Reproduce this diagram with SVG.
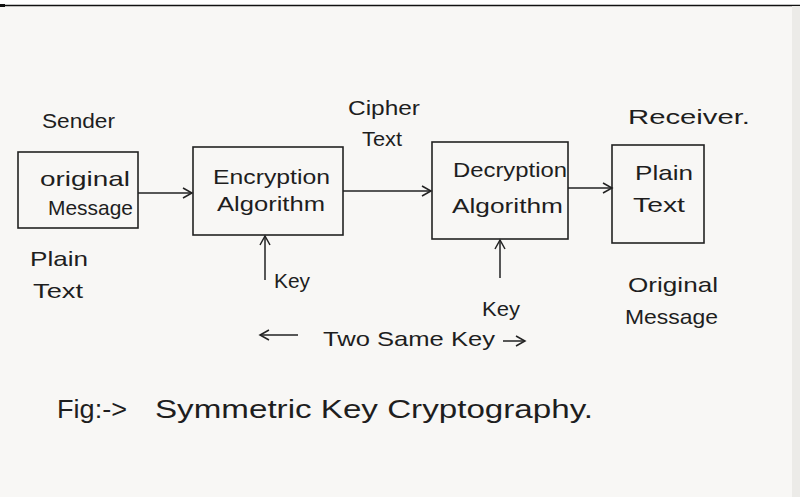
<svg xmlns="http://www.w3.org/2000/svg" width="800" height="497" viewBox="0 0 800 497">
<style>
.box{fill:none;stroke:#222;stroke-width:1.6}
.ln{fill:none;stroke:#222;stroke-width:1.5}
.t{font-family:"Liberation Sans",Arial,sans-serif;font-size:21px;fill:#1e1e1e}
.cap{font-size:25px}
</style>
<defs>
<marker id="ah" markerWidth="12" markerHeight="12" refX="10" refY="6" orient="auto" markerUnits="userSpaceOnUse">
<path d="M1,1 L10,6 L1,11" fill="none" stroke="#222" stroke-width="1.5"/>
</marker>
</defs>
<rect x="0" y="0" width="800" height="497" fill="#f8f7f5"/>
<rect x="0" y="0" width="800" height="5" fill="#ffffff"/>
<line x1="0" y1="5.5" x2="800" y2="5.5" stroke="#111" stroke-width="1.5"/>
<rect x="0" y="4" width="5" height="3" fill="#111"/>
<rect x="792" y="6" width="8" height="491" fill="#ecebe8"/>

<g id="sender-label"><text class="t" x="42" y="128" textLength="73" lengthAdjust="spacingAndGlyphs">Sender</text></g>
<g id="original-message">
<rect class="box" x="18" y="152" width="120" height="76"/>
<text class="t" x="40" y="186" textLength="90" lengthAdjust="spacingAndGlyphs">original</text>
<text class="t" x="48" y="215" textLength="85" lengthAdjust="spacingAndGlyphs">Message</text>
</g>
<g id="plain-text-label"><text class="t" x="30" y="266" textLength="58" lengthAdjust="spacingAndGlyphs">Plain</text><text class="t" x="33" y="298" textLength="50" lengthAdjust="spacingAndGlyphs">Text</text></g>

<g id="encryption">
<rect class="box" x="193" y="147" width="150" height="88"/>
<text class="t" x="213" y="184" textLength="117" lengthAdjust="spacingAndGlyphs">Encryption</text>
<text class="t" x="217" y="211" textLength="108" lengthAdjust="spacingAndGlyphs">Algorithm</text>
</g>
<g id="cipher-label"><text class="t" x="348" y="115" textLength="72" lengthAdjust="spacingAndGlyphs">Cipher</text><text class="t" x="362" y="146" textLength="40" lengthAdjust="spacingAndGlyphs">Text</text></g>

<g id="decryption">
<rect class="box" x="432" y="142" width="136" height="97"/>
<text class="t" x="453" y="177" textLength="114" lengthAdjust="spacingAndGlyphs">Decryption</text>
<text class="t" x="452" y="213" textLength="111" lengthAdjust="spacingAndGlyphs">Algorithm</text>
</g>

<g id="plain-text">
<rect class="box" x="612" y="145" width="92" height="98"/>
<text class="t" x="635" y="180" textLength="58" lengthAdjust="spacingAndGlyphs">Plain</text>
<text class="t" x="633" y="212" textLength="52" lengthAdjust="spacingAndGlyphs">Text</text>
</g>
<g id="receiver-label"><text class="t" x="628" y="124" textLength="122" lengthAdjust="spacingAndGlyphs">Receiver.</text></g>
<g id="original-message-label"><text class="t" x="628" y="292" textLength="90" lengthAdjust="spacingAndGlyphs">Original</text><text class="t" x="625" y="324" textLength="93" lengthAdjust="spacingAndGlyphs">Message</text></g>

<g id="key1-label"><text class="t" x="274" y="288" textLength="36" lengthAdjust="spacingAndGlyphs">Key</text></g>
<g id="key2-label"><text class="t" x="482" y="316" textLength="38" lengthAdjust="spacingAndGlyphs">Key</text></g>
<g id="two-same-key"><text class="t" x="323" y="346" textLength="172" lengthAdjust="spacingAndGlyphs">Two Same Key</text></g>

<g id="connectors">
<line class="ln" x1="138" y1="193" x2="192" y2="193" marker-end="url(#ah)"/>
<line class="ln" x1="343" y1="191" x2="431" y2="191" marker-end="url(#ah)"/>
<line class="ln" x1="568" y1="188" x2="612" y2="188" marker-end="url(#ah)"/>
<line class="ln" x1="265" y1="280" x2="265" y2="236" marker-end="url(#ah)"/>
<line class="ln" x1="500" y1="278" x2="500" y2="240" marker-end="url(#ah)"/>
<line class="ln" x1="298" y1="335" x2="260" y2="335" marker-end="url(#ah)"/>
<line class="ln" x1="503" y1="341" x2="525" y2="341" marker-end="url(#ah)"/>
</g>

<g id="caption">
<text class="t cap" x="57" y="418" textLength="70" lengthAdjust="spacingAndGlyphs">Fig:-&gt;</text>
<text class="t cap" x="155" y="418" textLength="438" lengthAdjust="spacingAndGlyphs">Symmetric Key Cryptography.</text>
</g>
</svg>
